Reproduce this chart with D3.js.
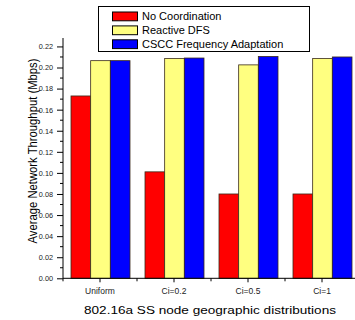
<!DOCTYPE html>
<html>
<head>
<meta charset="utf-8">
<script src="https://cdn.jsdelivr.net/npm/d3@7"></script>
<style>
  body { margin: 0; background: #fff; }
  svg { display: block; font-family: "Liberation Sans", Arial, sans-serif; }
</style>
</head>
<body>
<div id="chart"></div>
<script>
var categories = ['Uniform', 'Ci=0.2', 'Ci=0.5', 'Ci=1'];
var seriesNames = ['No Coordination', 'Reactive DFS', 'CSCC Frequency Adaptation'];
var noCoordination = [0.173, 0.101, 0.080, 0.080];
var reactiveDFS = [0.2065, 0.2085, 0.2025, 0.2085];
var csccAdaptation = [0.2065, 0.209, 0.2105, 0.210];
var yTicks = [0, 0.02, 0.04, 0.06, 0.08, 0.10, 0.12, 0.14, 0.16, 0.18, 0.20, 0.22];
var colors = ['#ff0000', '#ffff80', '#0000ff'];

var width = 355, height = 320;
var svg = d3.select('#chart').append('svg')
  .attr('width', width)
  .attr('height', height);

var x0 = 63, x1 = 359, yBase = 278.3, yTop = 38;

var x = d3.scaleBand().domain(categories).range([x0, x1]).paddingInner(0).paddingOuter(0);
var xs = d3.scaleBand().domain([0, 1, 2]).range([8, 67]);
var y = d3.scaleLinear().domain([0, 0.228]).range([yBase, yTop]);

var series = [noCoordination, reactiveDFS, csccAdaptation];

// bars
var groups = svg.selectAll('g.grp')
  .data(categories)
  .enter().append('g')
  .attr('class', 'grp')
  .attr('transform', function(d) { return 'translate(' + x(d) + ',0)'; });

groups.selectAll('rect')
  .data(function(d, i) { return series.map(function(s, k) { return { k: k, v: s[i] }; }); })
  .enter().append('rect')
  .attr('x', function(d) { return xs(d.k); })
  .attr('width', xs.bandwidth())
  .attr('y', function(d) { return y(d.v); })
  .attr('height', function(d) { return yBase - y(d.v); })
  .attr('fill', function(d) { return colors[d.k]; })
  .attr('stroke', '#3a2a1a')
  .attr('stroke-width', 0.8);

// y axis
var yAxis = d3.axisLeft(y).tickValues(yTicks).tickSize(6).tickPadding(4)
  .tickFormat(d3.format('.2f'));
var ga = svg.append('g').attr('transform', 'translate(' + x0 + ',0)').call(yAxis);
ga.select('.domain').remove();
ga.selectAll('text').attr('font-size', 7.3).attr('fill', '#222');
var minor = d3.range(0.01, 0.23, 0.02);
svg.append('g').selectAll('line').data(minor).enter().append('line')
  .attr('x1', x0 - 3).attr('x2', x0)
  .attr('y1', function(d) { return y(d); }).attr('y2', function(d) { return y(d); })
  .attr('stroke', '#000');
svg.append('line').attr('x1', x0).attr('x2', x0).attr('y1', yTop).attr('y2', yBase)
  .attr('stroke', '#000');

// x axis
svg.append('line').attr('x1', x0).attr('x2', x1).attr('y1', yBase).attr('y2', yBase)
  .attr('stroke', '#000');
var xg = svg.append('g');
xg.selectAll('line.c').data(categories).enter().append('line')
  .attr('x1', function(d) { return x(d) + x.bandwidth() / 2; })
  .attr('x2', function(d) { return x(d) + x.bandwidth() / 2; })
  .attr('y1', yBase).attr('y2', yBase + 4).attr('stroke', '#000');
xg.selectAll('line.b').data(categories).enter().append('line')
  .attr('x1', function(d) { return x(d); })
  .attr('x2', function(d) { return x(d); })
  .attr('y1', yBase).attr('y2', yBase + 3).attr('stroke', '#000');
xg.selectAll('text').data(categories).enter().append('text')
  .attr('x', function(d) { return x(d) + x.bandwidth() / 2; })
  .attr('y', 294)
  .attr('text-anchor', 'middle')
  .attr('font-size', 8.5)
  .attr('fill', '#222')
  .text(function(d) { return d; });

// axis titles
svg.append('text')
  .attr('x', 84).attr('y', 314.3)
  .attr('font-size', 11.5)
  .attr('textLength', 252)
  .attr('lengthAdjust', 'spacingAndGlyphs')
  .text('802.16a SS node geographic distributions');
svg.append('text')
  .attr('transform', 'translate(36.7,151) rotate(-90)')
  .attr('text-anchor', 'middle')
  .attr('font-size', 12)
  .attr('textLength', 185)
  .attr('lengthAdjust', 'spacingAndGlyphs')
  .text('Average Network Throughput (Mbps)');

// legend
var lg = svg.append('g');
lg.append('rect').attr('x', 98.5).attr('y', 6.5).attr('width', 211).attr('height', 45)
  .attr('fill', '#fff').attr('stroke', '#000');
var rows = lg.selectAll('g.row').data(seriesNames).enter().append('g')
  .attr('transform', function(d, i) { return 'translate(0,' + (16.3 + i * 13.9) + ')'; });
rows.append('rect').attr('x', 112.5).attr('y', -4.3).attr('width', 25).attr('height', 8.8)
  .attr('fill', function(d, i) { return colors[i]; })
  .attr('stroke', '#000');
rows.append('text').attr('x', 142).attr('y', 4)
  .attr('font-size', 11)
  .text(function(d) { return d; });
</script>
</body>
</html>
